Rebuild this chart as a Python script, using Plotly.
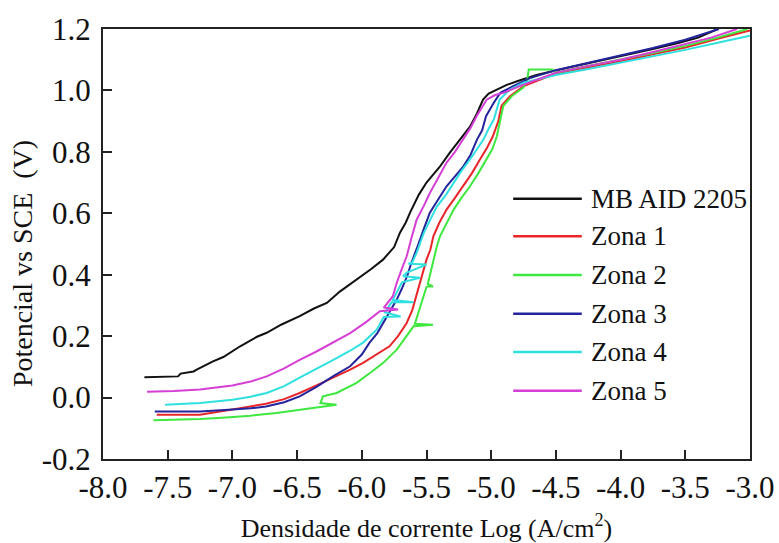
import plotly.graph_objects as go

# ---------------- data ----------------
series_names = ["MB AID 2205", "Zona 1", "Zona 2", "Zona 3", "Zona 4", "Zona 5"]
series_colors = ["#111111", "#e8262a", "#3ee83e", "#24249c", "#2fe0e0", "#d63fd6"]

mb_x = [-7.68, -7.55, -7.42, -7.40, -7.30, -7.276, -7.15, -7.07, -6.94, -6.81, -6.735, -6.62,
        -6.48, -6.37, -6.27, -6.17, -6.04, -5.93, -5.836, -5.75, -5.705, -5.66, -5.627, -5.56,
        -5.50, -5.40, -5.318, -5.24, -5.164, -5.11, -5.063, -5.02, -4.957, -4.88, -4.80, -4.65,
        -4.47, -4.25, -4.0, -3.75, -3.54, -3.40, -3.25]
mb_y = [0.066, 0.067, 0.069, 0.078, 0.085, 0.091, 0.118, 0.132, 0.167, 0.198, 0.211, 0.238,
        0.265, 0.29, 0.308, 0.345, 0.384, 0.418, 0.449, 0.49, 0.537, 0.57, 0.602, 0.66,
        0.70, 0.75, 0.798, 0.84, 0.882, 0.925, 0.97, 0.99, 1.003, 1.018, 1.03, 1.05,
        1.068, 1.088, 1.11, 1.135, 1.156, 1.172, 1.2]

z1_x = [-7.585, -7.40, -7.25, -7.0, -6.86, -6.74, -6.60, -6.48, -6.35, -6.22, -6.09, -5.99,
        -5.89, -5.786, -5.72, -5.653, -5.61, -5.58, -5.55, -5.525, -5.50, -5.47, -5.447, -5.40,
        -5.345, -5.28, -5.215, -5.15, -5.087, -5.03, -4.988, -4.945, -4.92, -4.855, -4.75, -4.6,
        -4.5, -4.25, -4.0, -3.75, -3.5, -3.25, -3.0]
z1_y = [-0.056, -0.057, -0.056, -0.039, -0.03, -0.02, -0.005, 0.015, 0.04, 0.065, 0.091, 0.113,
        0.14, 0.167, 0.2, 0.243, 0.285, 0.33, 0.37, 0.406, 0.449, 0.482, 0.525, 0.57,
        0.612, 0.65, 0.688, 0.73, 0.775, 0.815, 0.85, 0.90, 0.95, 0.981, 1.014, 1.04,
        1.055, 1.075, 1.095, 1.118, 1.14, 1.168, 1.195]

z2_x = [-7.61, -7.45, -7.25, -7.05, -6.86, -6.66, -6.48, -6.35, -6.25, -6.195, -6.32, -6.30,
        -6.195, -6.14, -6.04, -5.937, -5.834, -5.73, -5.66, -5.60, -5.45, -5.59, -5.56, -5.525,
        -5.50, -5.49, -5.45, -5.49, -5.47, -5.447, -5.42, -5.396, -5.34, -5.29, -5.23, -5.164,
        -5.10, -5.035, -4.99, -4.957, -4.93, -4.906, -4.842, -4.75, -4.72, -4.71, -4.53, -4.5,
        -4.25, -4.0, -3.75, -3.5, -3.25, -3.02]
z2_y = [-0.074, -0.073, -0.07, -0.065, -0.059, -0.05, -0.039, -0.032, -0.027, -0.023, -0.018, 0.004,
        0.015, 0.026, 0.048, 0.08, 0.113, 0.156, 0.195, 0.232, 0.237, 0.24, 0.28, 0.33,
        0.36, 0.362, 0.362, 0.37, 0.406, 0.449, 0.492, 0.525, 0.57, 0.612, 0.65, 0.688,
        0.73, 0.775, 0.81, 0.85, 0.905, 0.95, 0.981, 1.01, 1.038, 1.068, 1.068, 1.058,
        1.08, 1.10, 1.122, 1.145, 1.172, 1.2]

z3_x = [-7.60, -7.40, -7.25, -7.0, -6.86, -6.74, -6.60, -6.48, -6.35, -6.22, -6.09, -6.00,
        -5.94, -5.88, -5.834, -5.78, -5.73, -5.69, -5.65, -5.62, -5.59, -5.564, -5.52, -5.474,
        -5.41, -5.345, -5.28, -5.215, -5.16, -5.11, -5.07, -5.04, -4.98, -4.93, -4.83, -4.7,
        -4.5, -4.25, -4.0, -3.75, -3.5, -3.24]
z3_y = [-0.045, -0.046, -0.045, -0.039, -0.035, -0.029, -0.015, 0.004, 0.035, 0.07, 0.102, 0.14,
        0.179, 0.21, 0.244, 0.28, 0.319, 0.355, 0.395, 0.435, 0.472, 0.498, 0.55, 0.602,
        0.645, 0.688, 0.72, 0.753, 0.79, 0.84, 0.87, 0.916, 0.96, 0.992, 1.014, 1.04,
        1.066, 1.09, 1.112, 1.138, 1.165, 1.2]

z4_x = [-7.52, -7.25, -7.0, -6.86, -6.735, -6.60, -6.48, -6.35, -6.22, -6.10, -5.99, -5.885,
        -5.83, -5.70, -5.82, -5.77, -5.60, -5.76, -5.73, -5.69, -5.55, -5.68, -5.653, -5.50,
        -5.64, -5.61, -5.576, -5.55, -5.52, -5.47, -5.42, -5.35, -5.29, -5.23, -5.164, -5.11,
        -5.06, -5.02, -4.98, -4.935, -4.855, -4.75, -4.5, -4.25, -4.0, -3.75, -3.5, -3.25, -3.0]
z4_y = [-0.023, -0.018, -0.007, 0.003, 0.015, 0.037, 0.065, 0.093, 0.123, 0.15, 0.179, 0.221,
        0.262, 0.264, 0.277, 0.31, 0.31, 0.318, 0.342, 0.375, 0.39, 0.395, 0.407, 0.433,
        0.436, 0.44, 0.472, 0.50, 0.537, 0.58, 0.622, 0.66, 0.70, 0.738, 0.775, 0.808,
        0.84, 0.875, 0.905, 0.97, 1.003, 1.025, 1.05, 1.07, 1.09, 1.11, 1.132, 1.155, 1.178]

z5_x = [-7.66, -7.45, -7.25, -7.0, -6.86, -6.735, -6.60, -6.48, -6.35, -6.22, -6.09, -5.97,
        -5.86, -5.72, -5.83, -5.76, -5.73, -5.69, -5.653, -5.62, -5.576, -5.52, -5.473, -5.41,
        -5.345, -5.28, -5.215, -5.16, -5.113, -5.07, -5.035, -4.97, -4.906, -4.78, -4.65, -4.5,
        -4.25, -4.0, -3.75, -3.5, -3.3, -3.1]
z5_y = [0.019, 0.021, 0.026, 0.039, 0.052, 0.069, 0.095, 0.123, 0.15, 0.179, 0.21, 0.245,
        0.281, 0.287, 0.293, 0.33, 0.374, 0.42, 0.46, 0.514, 0.579, 0.625, 0.667, 0.715,
        0.765, 0.80, 0.84, 0.878, 0.916, 0.945, 0.97, 0.985, 0.992, 1.014, 1.035, 1.058,
        1.08, 1.10, 1.125, 1.15, 1.172, 1.2]

x_tick_vals = [-8.0, -7.5, -7.0, -6.5, -6.0, -5.5, -5.0, -4.5, -4.0, -3.5, -3.0]
x_tick_text = ["-8.0", "-7.5", "-7.0", "-6.5", "-6.0", "-5.5", "-5.0", "-4.5", "-4.0", "-3.5", "-3.0"]
y_tick_vals = [-0.2, 0.0, 0.2, 0.4, 0.6, 0.8, 1.0, 1.2]
y_tick_text = ["-0.2", "0.0", "0.2", "0.4", "0.6", "0.8", "1.0", "1.2"]

series_x = [mb_x, z1_x, z2_x, z3_x, z4_x, z5_x]
series_y = [mb_y, z1_y, z2_y, z3_y, z4_y, z5_y]

# ---------------- figure ----------------
FONT = "Liberation Serif"
fig = go.Figure()
for name, xs, ys, col in zip(series_names, series_x, series_y, series_colors):
    fig.add_trace(go.Scatter(x=xs, y=ys, mode="lines", name=name,
                             line=dict(color=col, width=2), showlegend=False))

# hand-drawn legend (long sample lines like the reference)
leg_y = [0.605, 0.518, 0.428, 0.338, 0.249, 0.159]
for name, col, ly in zip(series_names, series_colors, leg_y):
    fig.add_shape(type="line", xref="paper", yref="paper", x0=0.634, x1=0.740,
                  y0=ly, y1=ly, line=dict(color=col, width=2.5))
    fig.add_annotation(xref="paper", yref="paper", x=0.751, y=ly, text=name,
                       showarrow=False, xanchor="left", yanchor="middle",
                       font=dict(family=FONT, size=27, color="#111111"))

# y-axis title (placed slightly below the plot centre, as in the reference)
fig.add_annotation(xref="paper", yref="paper", x=-0.124, y=0.455,
                   text="Potencial vs SCE  (V)", textangle=-90, showarrow=False,
                   xanchor="center", yanchor="middle",
                   font=dict(family=FONT, size=28, color="#111111"))

axis_common = dict(showgrid=False, zeroline=False, showline=True, linecolor="#222222",
                   linewidth=2, mirror=True, ticks="inside", ticklen=9, tickwidth=2,
                   tickcolor="#222222", automargin=False,
                   tickfont=dict(family=FONT, size=31, color="#111111"))

fig.update_xaxes(range=[-8, -3], tickvals=x_tick_vals, ticktext=x_tick_text,
                 title=dict(text="Densidade de corrente Log (A/cm<sup>2</sup>)",
                            font=dict(family=FONT, size=26, color="#111111"), standoff=15),
                 **axis_common)
fig.update_yaxes(range=[-0.2, 1.2], tickvals=y_tick_vals, ticktext=y_tick_text,
                 ticklabelstandoff=4, **axis_common)

fig.update_layout(width=779, height=543, margin=dict(l=103, r=29, t=29, b=84),
                  plot_bgcolor="white", paper_bgcolor="white", showlegend=False,
                  font=dict(family=FONT))

fig.write_html("out.html")
